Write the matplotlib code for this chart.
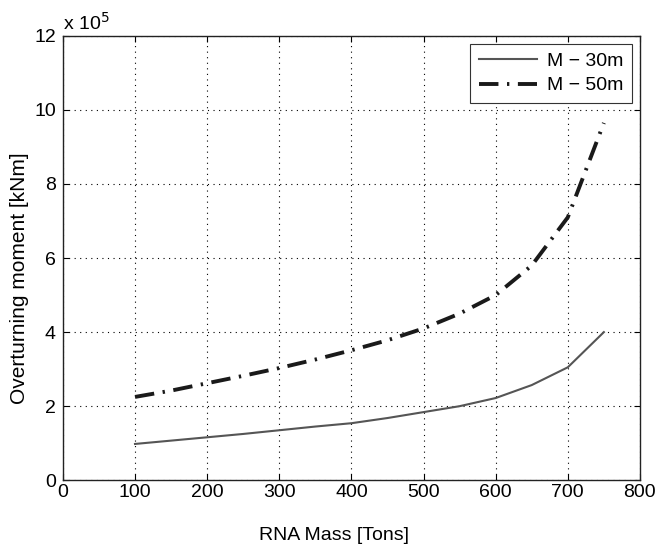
import matplotlib
matplotlib.use("Agg")
import matplotlib.pyplot as plt

plt.rcParams['font.family'] = ['Liberation Sans', 'DejaVu Sans']

rna_mass = [100, 150, 200, 250, 300, 350, 400, 450, 500, 550, 600, 650, 700, 750]
m30 = [0.98, 1.07, 1.16, 1.25, 1.35, 1.45, 1.54, 1.68, 1.84, 2.00, 2.22, 2.57, 3.05, 4.00]
m50 = [2.25, 2.42, 2.62, 2.82, 3.03, 3.26, 3.51, 3.78, 4.10, 4.50, 5.00, 5.80, 7.10, 9.65]
series_labels = ['M \u2212 30m', 'M \u2212 50m']
x_ticks = [0, 100, 200, 300, 400, 500, 600, 700, 800]
y_ticks = [0, 2, 4, 6, 8, 10, 12]

fig = plt.figure(figsize=(6.55, 5.52), dpi=100)
ax = fig.add_axes([0.096, 0.130, 0.881, 0.805])

ax.plot(rna_mass, m30, color='#555555', lw=1.5, ls='-', label=series_labels[0])
ax.plot(rna_mass, m50, color='#1a1a1a', lw=2.8, ls=(0, (5, 2.2, 0.6, 2.2)), label=series_labels[1])

ax.set_xlim(0, 800)
ax.set_ylim(0, 12)
ax.set_xticks(x_ticks)
ax.set_yticks(y_ticks)
ax.tick_params(direction='in', top=True, right=True, labelsize=14, length=4, pad=3)
ax.tick_params(axis='y', pad=5)
ax.grid(True, ls=(0, (1, 4)), color='black', lw=0.8)
for s in ax.spines.values():
    s.set_linewidth(1.0)
    s.set_color('#222222')

ax.set_xlabel('RNA Mass [Tons]', fontsize=14)
ax.xaxis.set_label_coords(0.47, -0.105)
ax.set_ylabel('Overturning moment [kNm]', fontsize=15)
ax.yaxis.set_label_coords(-0.058, 0.455)
ax.text(0.0, 1.005, r'x 10$^5$', transform=ax.transAxes, fontsize=14, ha='left', va='bottom')

leg = ax.legend(loc='upper right', fontsize=14, fancybox=False, edgecolor='#333333',
                framealpha=1, handlelength=3.0, borderaxespad=0.4, labelspacing=0.35,
                borderpad=0.45, handletextpad=0.5)
leg.get_frame().set_linewidth(0.8)

fig.savefig('out.png', dpi=100)
